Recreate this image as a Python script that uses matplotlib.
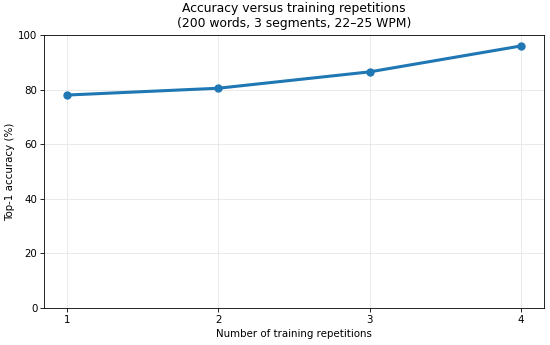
import matplotlib.pyplot as plt

repetitions = [1, 2, 3, 4]
accuracy = [78.0, 80.5, 86.5, 96.0]

fig, ax = plt.subplots(figsize=(5.5, 3.45), dpi=100)

ax.plot(repetitions, accuracy, color="#1f77b4", linewidth=2.2, marker="o", markersize=5)

ax.set_ylim(0, 100)
ax.set_xticks(repetitions)
ax.set_title("Accuracy versus training repetitions\n(200 words, 3 segments, 22\u201325 WPM)", fontsize=8.9)
ax.set_xlabel("Number of training repetitions", fontsize=7.4, labelpad=3)
ax.set_ylabel("Top-1 accuracy (%)", fontsize=7.4, labelpad=2)
ax.tick_params(labelsize=7.4, length=2.8, width=0.6, pad=2)
for s in ax.spines.values():
    s.set_linewidth(0.6)
ax.grid(True, color="#e6e6e6", linewidth=0.6)

fig.subplots_adjust(left=0.08, right=0.989, top=0.8986, bottom=0.107)
plt.savefig("out.png", dpi=100)
